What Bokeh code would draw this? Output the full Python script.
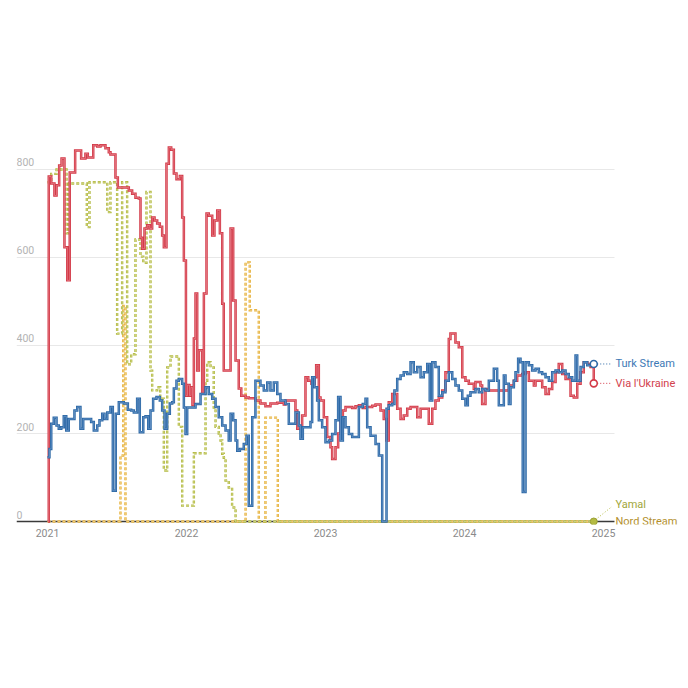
from bokeh.plotting import figure
from bokeh.models import FixedTicker
from bokeh.core.properties import value
from bokeh.embed import file_html
from bokeh.resources import INLINE

BASE_YEAR = 2021

# ---- data: time offsets (years after 1 Jan 2021) and daily flow values ----
ukraine_t = [0.004, 0.009, 0.027, 0.050, 0.065, 0.084, 0.101, 0.122, 0.142, 0.160, 0.199, 0.242, 0.273, 0.290,
             0.329, 0.358, 0.381, 0.417, 0.441, 0.453, 0.489, 0.506, 0.585, 0.609, 0.633, 0.657, 0.669, 0.681,
             0.698, 0.717, 0.736, 0.753, 0.770, 0.789, 0.808, 0.825, 0.837, 0.856, 0.873, 0.890, 0.909, 0.928,
             0.952, 0.969, 0.981, 0.996, 1.007, 1.022, 1.032, 1.043, 1.053, 1.065, 1.077, 1.089, 1.113, 1.125,
             1.144, 1.160, 1.185, 1.201, 1.221, 1.240, 1.257, 1.268, 1.317, 1.336, 1.353, 1.376, 1.394, 1.425,
             1.448, 1.496, 1.532, 1.568, 1.604, 1.653, 1.700, 1.712, 1.784, 1.797, 1.832, 1.856, 1.876, 1.899,
             1.921, 1.933, 1.952, 1.964, 1.988, 2.012, 2.036, 2.048, 2.072, 2.091, 2.108, 2.125, 2.144, 2.192,
             2.216, 2.240, 2.268, 2.288, 2.336, 2.360, 2.396, 2.419, 2.439, 2.455, 2.480, 2.516, 2.540, 2.563,
             2.588, 2.612, 2.660, 2.684, 2.743, 2.768, 2.791, 2.815, 2.840, 2.863, 2.887, 2.899, 2.935, 2.959,
             2.984, 3.007, 3.031, 3.067, 3.079, 3.115, 3.127, 3.151, 3.175, 3.319, 3.355, 3.379, 3.415, 3.439,
             3.463, 3.499, 3.511, 3.559, 3.583, 3.607, 3.631, 3.655, 3.678, 3.703, 3.727, 3.763, 3.786, 3.811,
             3.835, 3.858, 3.883, 3.907, 3.930]
ukraine_v = [0, 784, 768, 741, 764, 809, 825, 623, 548, 793, 843, 825, 836, 827,
             855, 852, 855, 848, 839, 834, 782, 759, 752, 745, 736, 734, 645, 620,
             666, 673, 666, 691, 684, 677, 670, 650, 623, 813, 850, 845, 791, 778,
             785, 691, 593, 286, 310, 286, 305, 265, 416, 518, 343, 389, 291, 518,
             700, 695, 650, 684, 707, 655, 495, 343, 666, 502, 366, 302, 286, 282,
             280, 275, 268, 262, 268, 270, 266, 275, 252, 211, 241, 328, 320, 313,
             328, 355, 282, 275, 237, 192, 169, 142, 169, 200, 237, 252, 260, 258,
             262, 264, 258, 260, 263, 266, 252, 233, 184, 271, 290, 256, 233, 241,
             256, 260, 237, 256, 222, 256, 275, 282, 298, 339, 415, 427, 407, 396,
             328, 320, 313, 301, 317, 309, 267, 301, 298, 309, 320, 332, 335, 339,
             320, 309, 320, 305, 290, 301, 317, 339, 358, 335, 324, 286, 282, 313,
             339, 362, 358, 351, 314]

turk_t = [0.000, 0.014, 0.027, 0.045, 0.065, 0.081, 0.099, 0.117, 0.135, 0.153, 0.194, 0.214, 0.237, 0.257,
          0.314, 0.333, 0.358, 0.374, 0.394, 0.410, 0.430, 0.453, 0.470, 0.491, 0.513, 0.549, 0.578, 0.602,
          0.621, 0.645, 0.664, 0.689, 0.705, 0.725, 0.741, 0.760, 0.784, 0.808, 0.825, 0.842, 0.861, 0.880,
          0.897, 0.909, 0.928, 0.945, 0.969, 0.981, 0.993, 1.005, 1.065, 1.101, 1.137, 1.160, 1.185, 1.209,
          1.232, 1.257, 1.281, 1.304, 1.317, 1.336, 1.353, 1.365, 1.384, 1.412, 1.432, 1.448, 1.473, 1.496,
          1.532, 1.556, 1.581, 1.604, 1.628, 1.653, 1.676, 1.712, 1.736, 1.784, 1.808, 1.820, 1.837, 1.892,
          1.904, 1.921, 1.940, 1.952, 1.976, 2.000, 2.024, 2.048, 2.072, 2.091, 2.108, 2.125, 2.144, 2.168,
          2.192, 2.240, 2.268, 2.288, 2.300, 2.324, 2.360, 2.384, 2.408, 2.439, 2.455, 2.480, 2.496, 2.516,
          2.540, 2.563, 2.588, 2.612, 2.635, 2.660, 2.684, 2.707, 2.732, 2.750, 2.768, 2.791, 2.815, 2.840,
          2.863, 2.887, 2.912, 2.935, 2.959, 2.984, 3.007, 3.024, 3.043, 3.079, 3.103, 3.127, 3.151, 3.175,
          3.211, 3.235, 3.247, 3.283, 3.295, 3.319, 3.331, 3.355, 3.367, 3.386, 3.403, 3.419, 3.439, 3.463,
          3.487, 3.511, 3.535, 3.559, 3.583, 3.607, 3.631, 3.655, 3.678, 3.703, 3.727, 3.750, 3.775, 3.799,
          3.811, 3.835, 3.858, 3.883, 3.907, 3.930]
turk_v = [146, 165, 222, 236, 218, 211, 214, 239, 207, 233, 252, 260, 211, 233,
          226, 207, 218, 230, 245, 233, 248, 260, 70, 245, 271, 268, 254, 252,
          248, 279, 203, 237, 239, 211, 252, 279, 283, 275, 252, 211, 245, 268,
          271, 302, 320, 324, 313, 259, 199, 259, 267, 290, 305, 290, 279, 260,
          237, 218, 207, 184, 245, 230, 184, 161, 165, 176, 195, 36, 237, 320,
          309, 298, 316, 298, 316, 290, 275, 267, 222, 248, 218, 188, 214, 226,
          328, 305, 275, 230, 214, 180, 184, 199, 230, 283, 184, 237, 214, 199,
          192, 260, 267, 279, 214, 195, 176, 150, 0, 256, 264, 267, 298, 324,
          332, 339, 335, 362, 339, 351, 328, 339, 358, 275, 362, 351, 286, 294,
          320, 339, 324, 309, 298, 279, 264, 286, 294, 301, 294, 301, 298, 320,
          347, 320, 264, 332, 313, 267, 305, 320, 339, 370, 362, 67, 362, 355,
          343, 347, 339, 335, 328, 320, 339, 343, 339, 343, 335, 328, 320, 377,
          320, 351, 362, 355, 355, 358]

yamal_t = [0.000, 0.027, 0.065, 0.137, 0.153, 0.283, 0.302, 0.430, 0.453, 0.501, 0.537, 0.573, 0.602, 0.633,
           0.669, 0.689, 0.712, 0.741, 0.753, 0.789, 0.811, 0.837, 0.861, 0.885, 0.945, 0.969, 1.053, 1.137,
           1.149, 1.173, 1.196, 1.209, 1.232, 1.245, 1.257, 1.268, 1.281, 1.304, 1.328, 1.353, 3.930]
yamal_v = [771, 790, 800, 655, 768, 669, 771, 703, 771, 427, 771, 357, 380, 641,
           602, 588, 749, 343, 298, 305, 279, 116, 350, 375, 215, 36, 155, 320,
           362, 350, 259, 215, 200, 184, 154, 145, 93, 77, 32, 0, 0]

nord_t = [0.000, 0.525, 0.545, 0.561, 1.425, 1.455, 1.520, 1.568, 1.657, 3.930]
nord_v = [0, 150, 490, 0, 589, 480, 0, 236, 0, 0]

series_names = ["Turk Stream", "Via l'Ukraine", "Yamal", "Nord Stream"]
x_ticks = [2021, 2022, 2023, 2024, 2025]
x_tick_labels = ["2021", "2022", "2023", "2024", "2025"]
y_ticks = [0, 200, 400, 600, 800]
y_tick_labels = ["0", "200", "400", "600", "800"]

# ---- styling ----
BLUE, BLUE_IN, BLUE_TXT = "#2d69a6", "#6f9acb", "#3d79b5"
RED, RED_IN, RED_TXT = "#d33a48", "#e98791", "#d2414d"
OLIVE, OLIVE_IN, OLIVE_TXT = "#b3ba42", "#dfe3a6", "#9fa63a"
GOLD, GOLD_IN, GOLD_TXT = "#e7b23d", "#f4dc9f", "#b38f2c"
FONT = "Roboto"

X0, X1 = 2020.777, 2025.554      # plot frame (extends to the right to hold the labels)
XG = 2025.079                    # where grid lines / baseline stop
Y0, Y1 = -6.8, 888.6

p = figure(width=684, height=568, x_range=(X0, X1), y_range=(Y0, Y1),
           output_backend="svg", toolbar_location=None, y_axis_location=None,
           min_border_left=16, min_border_right=4, min_border_top=130, min_border_bottom=44)
p.outline_line_color = None
p.background_fill_color = "white"
p.border_fill_color = "white"
p.xgrid.visible = False
p.ygrid.visible = False

ax = p.xaxis[0]
ax.ticker = FixedTicker(ticks=x_ticks)
ax.major_label_overrides = {t: s for t, s in zip(x_ticks, x_tick_labels)}
ax.axis_line_color = None
ax.major_tick_line_color = None
ax.minor_tick_line_color = None
ax.major_tick_out = 0
ax.major_label_standoff = 4
ax.major_label_text_font = FONT
ax.major_label_text_font_size = "10.5px"
ax.major_label_text_color = "#8a8a8a"

# horizontal grid lines and baseline, stopping where the data area ends
p.segment(x0=[X0] * (len(y_ticks) - 1), y0=y_ticks[1:], x1=[XG] * (len(y_ticks) - 1), y1=y_ticks[1:],
          line_color="#e8e8e8", line_width=1)
p.segment(x0=[X0], y0=[0], x1=[XG], y1=[0], line_color="#3a3a3a", line_width=1.3)

# y tick labels sitting above the grid lines
p.text(x=[X0] * len(y_ticks), y=y_ticks, text=y_tick_labels, text_font=value(FONT),
       text_font_size="10.5px", text_color="#b3b3b3", text_align="left", text_baseline="bottom",
       y_offset=-3)


def years(ts):
    return [BASE_YEAR + t for t in ts]


def outlined_step(ts, vs, outer, inner, dash="solid", w_out=2.5, w_in=0.7):
    xs = years(ts)
    p.step(xs, vs, mode="after", line_color=outer, line_width=w_out, line_dash=dash,
           line_join="miter")
    p.step(xs, vs, mode="after", line_color=inner, line_width=w_in, line_dash=dash,
           line_join="miter")


outlined_step(nord_t, nord_v, GOLD, GOLD_IN, dash="3 2", w_out=2.4, w_in=0.6)
outlined_step(yamal_t, yamal_v, OLIVE, OLIVE_IN, dash="3 2", w_out=2.4, w_in=0.6)
outlined_step(ukraine_t, ukraine_v, RED, RED_IN)
outlined_step(turk_t, turk_v, BLUE, BLUE_IN)

# end markers, connectors and direct labels
x_end = BASE_YEAR + turk_t[-1]
x_conn0 = x_end + 0.025
x_conn1 = XG - 0.018
for v_end, col in [(turk_v[-1], BLUE), (ukraine_v[-1], RED)]:
    p.segment(x0=[x_conn0], y0=[v_end], x1=[x_conn1], y1=[v_end], line_color=col,
              line_dash="1 2", line_width=1)
    p.scatter([x_end], [v_end], size=7, marker="circle", fill_color="white",
              line_color=col, line_width=1.6)
p.segment(x0=[x_end + 0.012], y0=[yamal_v[-1] + 4], x1=[x_conn1], y1=[34],
          line_color=OLIVE, line_dash="1 2", line_width=1)
p.scatter([x_end], [yamal_v[-1]], size=7, marker="circle", fill_color=OLIVE,
          line_color="#9aa036", line_width=1)

label_y = [turk_v[-1], ukraine_v[-1], 38, nord_v[-1]]
label_col = [BLUE_TXT, RED_TXT, OLIVE_TXT, GOLD_TXT]
p.text(x=[XG] * 4, y=label_y, text=series_names, text_font=value(FONT), text_font_size="11px",
       text_color=label_col, text_baseline="middle", text_align="left", x_offset=1)

open("out.html", "w").write(file_html(p, INLINE))
